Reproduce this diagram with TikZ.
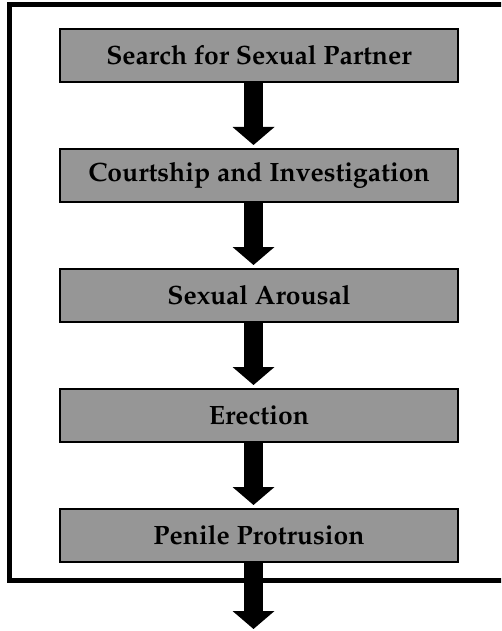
\documentclass[tikz,border=0pt]{standalone}
\usepackage[T1]{fontenc}
\usepackage{tikz}
\renewcommand{\rmdefault}{ppl}
\usetikzlibrary{arrows.meta}

\definecolor{stagegray}{RGB}{150,150,150}
\tikzset{
  stage/.style={draw=black, line width=2pt, fill=stagegray, minimum width=398pt, minimum height=53pt, inner sep=0pt, font=\fontsize{26.5}{30}\selectfont\bfseries},
  flowarrow/.style={line width=19pt, -{Triangle[width=41pt, length=18pt]}, shorten >=3pt}
}

\begin{document}
\begin{tikzpicture}[x=1pt, y=-1pt, line join=miter]
    \useasboundingbox (0,0) rectangle (501,631);
    \clip (0,0) rectangle (501,631);
    % outer frame
    \draw [line width=5pt] (9.8,5) rectangle (520,580.5);
    % stages
    \node [stage] (search) at (259,55.5) {Search for Sexual Partner};
    \node [stage] (courtship) at (259,175.5) {Courtship and Investigation};
    \node [stage] (arousal) at (259,295.5) {Sexual Arousal};
    \node [stage] (erection) at (259,415.5) {Erection};
    \node [stage] (protrusion) at (259,535.5) {Penile Protrusion};
    \coordinate (out) at (253.5,632);
    % arrows
    \draw [flowarrow] ([xshift=-5.5pt]search.south) -- ([xshift=-5.5pt]courtship.north);
    \draw [flowarrow] ([xshift=-5.5pt]courtship.south) -- ([xshift=-5.5pt]arousal.north);
    \draw [flowarrow] ([xshift=-5.5pt]arousal.south) -- ([xshift=-5.5pt]erection.north);
    \draw [flowarrow] ([xshift=-5.5pt]erection.south) -- ([xshift=-5.5pt]protrusion.north);
    \draw [flowarrow] ([xshift=-5.5pt]protrusion.south) -- (out);
\end{tikzpicture}
\end{document}
